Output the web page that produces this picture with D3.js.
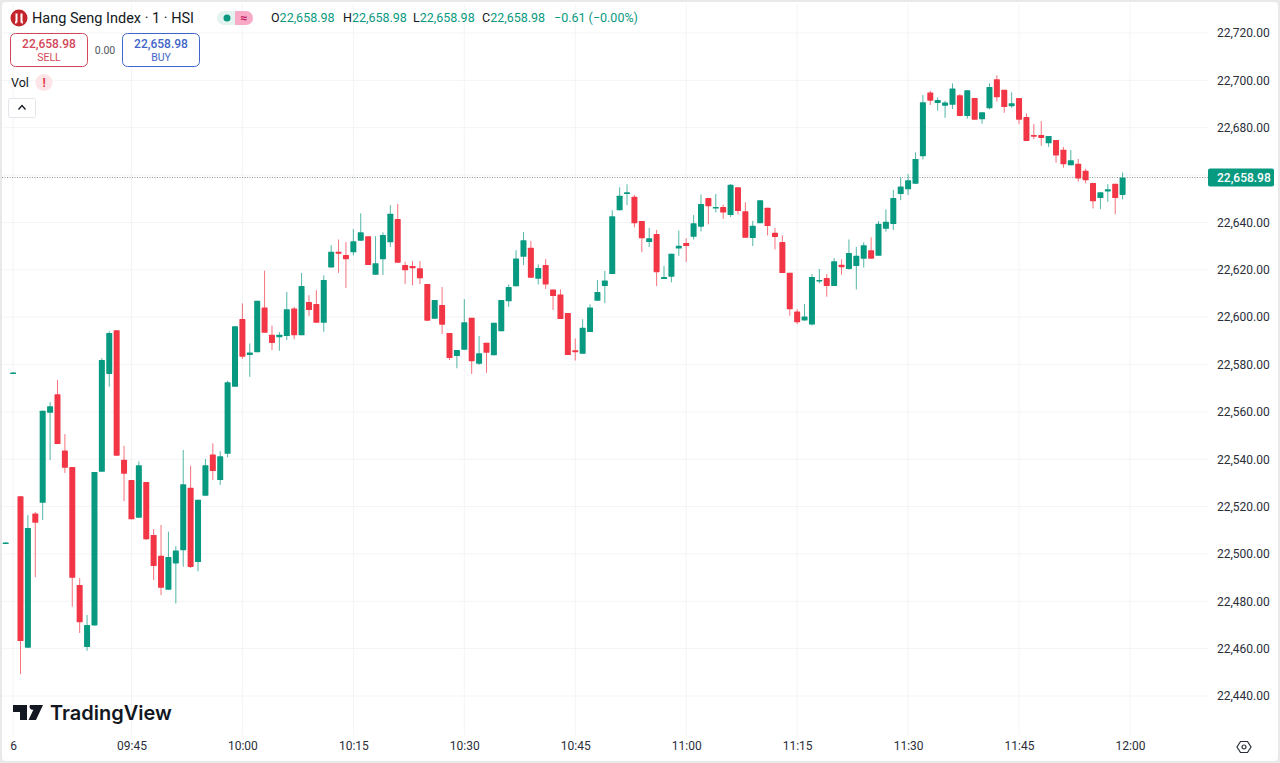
<!DOCTYPE html>
<html>
<head>
<meta charset="utf-8">
<title>Hang Seng Index</title>
<script src="https://cdn.jsdelivr.net/npm/d3@7/dist/d3.min.js"></script>
<style>
  html, body { margin: 0; padding: 0; background: #e9e9ea; overflow: hidden; }
  svg { display: block; font-family: Roboto, "Open Sans", sans-serif; }
  .tick text { fill: #2a2e39; font-size: 12px; font-family: Roboto, sans-serif; }
</style>
</head>
<body>
<div id="chart"></div>
<script>
// one candle a minute, the first two belong to the pre-open auction
const open = [
  22504.4, 22576.2,
  22524.4, 22460.4, 22517.1, 22521.6, 22559.6, 22567.4, 22543.7, 22536.7, 22486.9, 22460.7,
  22469.8, 22534.7, 22576.0, 22594.5, 22539.8, 22531.2, 22515.3, 22530.4, 22508.0, 22499.2,
  22484.9, 22496.0, 22501.6, 22527.9, 22496.6, 22524.6, 22542.0, 22531.2, 22542.3, 22570.6,
  22599.2, 22584.0, 22585.2, 22604.1, 22592.6, 22591.5, 22592.0, 22603.7, 22592.4, 22606.4,
  22605.5, 22597.6, 22621.0, 22627.6, 22626.2, 22627.4, 22632.3, 22634.2, 22617.9, 22624.5,
  22631.6, 22641.4, 22622.0, 22621.6, 22620.7, 22614.0, 22599.3, 22605.1, 22593.3, 22583.6,
  22586.2, 22599.7, 22580.3, 22589.2, 22583.9, 22594.0, 22606.7, 22613.0, 22625.5, 22629.3,
  22616.2, 22622.0, 22611.7, 22609.6, 22601.8, 22586.0, 22584.5, 22593.7, 22606.9, 22613.2,
  22618.2, 22645.1, 22652.0, 22650.8, 22640.6, 22631.7, 22635.1, 22616.1, 22617.1, 22629.0,
  22631.3, 22633.9, 22638.2, 22650.3, 22646.2, 22646.5, 22643.1, 22654.9, 22644.7, 22633.4,
  22639.7, 22646.2, 22635.6, 22631.7, 22618.7, 22602.4, 22598.6, 22596.9, 22615.2, 22616.5,
  22613.2, 22622.1, 22620.3, 22621.6, 22624.7, 22628.2, 22625.9, 22637.3, 22639.3, 22652.0,
  22654.0, 22656.3, 22668.0, 22694.9, 22690.4, 22689.3, 22689.7, 22693.7, 22684.9, 22692.5,
  22683.6, 22688.2, 22700.5, 22696.0, 22689.1, 22692.5, 22684.5, 22676.9, 22676.9, 22673.4,
  22674.8, 22670.7, 22664.1, 22664.8, 22661.8, 22656.7, 22650.3, 22653.1, 22656.3, 22651.6
];
const high = [
  22505.0, 22576.8,
  22524.4, 22516.4, 22517.7, 22560.5, 22564.1, 22573.4, 22550.6, 22536.7, 22489.8, 22474.2,
  22534.6, 22582.7, 22594.1, 22594.5, 22545.6, 22531.2, 22539.1, 22530.4, 22510.5, 22512.2,
  22509.4, 22503.3, 22543.9, 22537.2, 22522.9, 22540.1, 22546.7, 22543.4, 22573.1, 22596.2,
  22605.8, 22588.9, 22606.9, 22619.6, 22596.4, 22593.7, 22610.6, 22604.4, 22618.7, 22609.3,
  22611.4, 22617.6, 22630.4, 22632.8, 22631.7, 22637.2, 22643.8, 22634.2, 22634.2, 22635.8,
  22647.3, 22647.8, 22623.4, 22623.7, 22623.7, 22614.0, 22607.2, 22612.7, 22593.3, 22586.1,
  22607.6, 22599.7, 22592.0, 22589.2, 22597.6, 22607.2, 22613.8, 22628.3, 22635.9, 22632.1,
  22622.3, 22624.5, 22611.7, 22611.7, 22601.8, 22591.0, 22599.1, 22605.4, 22615.7, 22619.5,
  22645.2, 22654.8, 22656.1, 22651.6, 22640.6, 22637.7, 22636.8, 22621.6, 22626.8, 22636.6,
  22633.3, 22643.1, 22651.8, 22650.3, 22652.0, 22647.5, 22656.2, 22654.9, 22648.5, 22640.7,
  22649.4, 22646.2, 22637.6, 22634.5, 22618.7, 22603.4, 22605.5, 22618.2, 22620.4, 22618.2,
  22624.9, 22624.4, 22632.8, 22629.7, 22631.6, 22633.7, 22640.6, 22645.5, 22653.7, 22659.0,
  22660.4, 22669.6, 22693.8, 22695.6, 22692.8, 22691.4, 22698.7, 22694.2, 22695.8, 22692.5,
  22686.5, 22698.7, 22702.1, 22696.0, 22694.9, 22692.5, 22686.1, 22681.5, 22682.8, 22676.5,
  22674.8, 22671.9, 22670.6, 22666.8, 22662.7, 22656.7, 22652.7, 22656.1, 22656.3, 22661.1
];
const low = [
  22504.2, 22576.0,
  22449.3, 22460.4, 22490.2, 22514.3, 22539.6, 22546.4, 22534.2, 22477.7, 22466.6, 22459.1,
  22469.8, 22534.7, 22570.6, 22541.5, 22522.3, 22514.6, 22515.3, 22505.9, 22489.0, 22482.6,
  22484.9, 22479.1, 22494.6, 22494.0, 22492.6, 22524.6, 22531.2, 22529.1, 22540.8, 22570.6,
  22582.4, 22574.8, 22585.2, 22593.4, 22586.1, 22585.8, 22590.3, 22590.7, 22592.4, 22600.5,
  22597.6, 22593.8, 22621.0, 22618.7, 22612.3, 22626.1, 22632.3, 22622.0, 22617.9, 22617.8,
  22629.7, 22623.0, 22614.0, 22613.4, 22614.0, 22598.5, 22599.3, 22592.9, 22581.9, 22578.4,
  22586.2, 22576.0, 22579.8, 22576.5, 22583.9, 22594.0, 22604.3, 22613.0, 22622.0, 22616.6,
  22613.8, 22611.9, 22603.0, 22599.2, 22584.0, 22581.7, 22584.5, 22593.7, 22606.9, 22605.9,
  22618.2, 22645.1, 22647.3, 22637.9, 22627.4, 22629.6, 22613.1, 22616.1, 22614.7, 22625.9,
  22623.3, 22632.8, 22636.2, 22639.2, 22644.2, 22641.5, 22642.3, 22643.4, 22633.5, 22630.0,
  22639.7, 22634.5, 22628.6, 22618.6, 22600.6, 22597.1, 22598.6, 22596.5, 22614.3, 22608.6,
  22613.2, 22617.9, 22620.0, 22611.7, 22620.9, 22624.7, 22625.9, 22636.1, 22636.8, 22649.4,
  22651.6, 22656.3, 22666.6, 22689.6, 22687.2, 22684.2, 22687.9, 22684.8, 22683.8, 22683.4,
  22681.7, 22687.7, 22691.1, 22686.3, 22688.4, 22681.5, 22674.4, 22675.1, 22672.4, 22671.9,
  22665.2, 22663.1, 22664.1, 22657.2, 22656.5, 22645.9, 22645.6, 22648.7, 22643.5, 22649.7
];
const close = [
  22504.8, 22576.6,
  22463.2, 22511.0, 22513.2, 22560.5, 22562.4, 22546.4, 22536.4, 22489.9, 22471.1, 22470.0,
  22534.6, 22581.9, 22593.3, 22541.5, 22533.9, 22514.6, 22537.4, 22506.2, 22494.9, 22485.7,
  22498.7, 22501.5, 22529.4, 22494.5, 22522.9, 22537.4, 22535.0, 22541.2, 22572.5, 22596.2,
  22583.3, 22585.1, 22606.9, 22593.4, 22589.1, 22592.6, 22603.3, 22592.4, 22613.1, 22603.0,
  22597.6, 22615.7, 22627.6, 22626.8, 22624.5, 22632.0, 22635.8, 22622.0, 22622.8, 22634.7,
  22643.7, 22623.0, 22619.8, 22620.6, 22616.4, 22598.5, 22607.2, 22596.8, 22582.7, 22586.1,
  22597.8, 22581.4, 22584.8, 22585.0, 22597.6, 22607.2, 22612.7, 22624.8, 22632.5, 22616.6,
  22620.8, 22613.8, 22608.9, 22599.2, 22584.0, 22585.2, 22595.5, 22604.1, 22610.6, 22615.5,
  22642.6, 22651.3, 22652.7, 22639.7, 22633.3, 22633.3, 22619.0, 22617.0, 22626.8, 22630.1,
  22630.0, 22639.7, 22647.8, 22646.8, 22646.5, 22644.2, 22655.9, 22644.8, 22633.5, 22638.6,
  22649.4, 22638.5, 22633.8, 22618.6, 22603.3, 22597.8, 22600.3, 22617.0, 22615.7, 22613.1,
  22623.6, 22621.1, 22627.1, 22625.9, 22630.4, 22624.7, 22639.4, 22640.3, 22650.3, 22655.2,
  22657.8, 22666.8, 22690.8, 22691.4, 22691.7, 22690.7, 22696.6, 22685.0, 22695.8, 22683.4,
  22686.5, 22697.2, 22692.9, 22688.7, 22690.3, 22683.4, 22674.4, 22676.2, 22675.7, 22676.5,
  22668.3, 22664.6, 22666.3, 22658.6, 22657.8, 22648.9, 22652.7, 22654.0, 22650.3, 22658.98
];

const priceTicks = [22720, 22700, 22680, 22660, 22640, 22620, 22600, 22580, 22560, 22540, 22520, 22500, 22480, 22460, 22440];
const timeTickHours = [[9,29],[9,45],[10,0],[10,15],[10,30],[10,45],[11,0],[11,15],[11,30],[11,45],[12,0]];
const timeLabels = ["6","09:45","10:00","10:15","10:30","10:45","11:00","11:15","11:30","11:45","12:00"];
const lastPrice = 22658.98;
const ohlcLabels = ["O","H","L","C"];
const ohlcValues = ["22,658.98","22,658.98","22,658.98","22,658.98"];

const UP = "#089981";
const DOWN = "#f23645";

const firstMinute = new Date(2025, 4, 6, 9, 28);
const day = (h, m) => new Date(2025, 4, 6, h, m);

const x = d3.scaleTime().domain([day(9,30), day(12,0)]).range([20.5, 1130]);
const y = d3.scaleLinear().domain([22720, 22440]).range([33, 696]);

const svg = d3.select("#chart").append("svg")
  .attr("width", 1280)
  .attr("height", 763);

// pane
svg.append("rect")
  .attr("x", 2).attr("y", 2)
  .attr("width", 1276).attr("height", 759)
  .attr("rx", 4)
  .attr("fill", "#fff");

// grid
const timeTicks = timeTickHours.map(d => day(d[0], d[1]));

svg.append("g").selectAll("line")
  .data(priceTicks)
  .join("line")
  .attr("x1", 2).attr("x2", 1208)
  .attr("y1", d => y(d)).attr("y2", d => y(d))
  .attr("stroke", "#f3f4f6");

svg.append("g").selectAll("line")
  .data(timeTicks)
  .join("line")
  .attr("x1", d => x(d)).attr("x2", d => x(d))
  .attr("y1", 4).attr("y2", 735)
  .attr("stroke", "#f3f4f6");

// last price line
svg.append("line")
  .attr("x1", 2).attr("x2", 1208)
  .attr("y1", y(lastPrice)).attr("y2", y(lastPrice))
  .attr("stroke", "#8f9a98")
  .attr("stroke-dasharray", "1 1.5");

// candles
const candles = close.map((c, i) => ({
  time: d3.timeMinute.offset(firstMinute, i),
  open: open[i], high: high[i], low: low[i], close: c
}));

const candle = svg.append("g").selectAll("g")
  .data(candles)
  .join("g")
  .attr("transform", d => "translate(" + x(d.time) + ",0)");

candle.append("line")
  .attr("y1", d => y(d.high))
  .attr("y2", d => y(d.low))
  .attr("stroke", d => d.close >= d.open ? UP : DOWN)
  .attr("stroke-opacity", 0.7);

candle.append("rect")
  .attr("x", -3)
  .attr("width", 6)
  .attr("y", d => y(Math.max(d.open, d.close)))
  .attr("height", d => Math.max(1.5, Math.abs(y(d.open) - y(d.close))))
  .attr("rx", 0.6)
  .attr("fill", d => d.close >= d.open ? UP : DOWN);

// price axis
const yAxis = svg.append("g")
  .attr("transform", "translate(1217,0)")
  .call(d3.axisRight(y).tickValues(priceTicks).tickSize(0).tickPadding(0).tickFormat(d3.format(",.2f")));
yAxis.select(".domain").remove();

// last price tag
svg.append("rect")
  .attr("x", 1208).attr("y", y(lastPrice) - 9)
  .attr("width", 66).attr("height", 18)
  .attr("rx", 2)
  .attr("fill", UP);
svg.append("text")
  .attr("x", 1217).attr("y", y(lastPrice) + 4.5)
  .attr("fill", "#fff")
  .attr("font-size", 12).attr("font-weight", 500)
  .text(d3.format(",.2f")(lastPrice));

// time axis
const xAxis = svg.append("g")
  .attr("transform", "translate(0,737)")
  .call(d3.axisBottom(x).tickValues(timeTicks).tickSize(0).tickPadding(4).tickFormat((d, i) => timeLabels[i]));
xAxis.select(".domain").remove();

// settings icon
const gear = svg.append("g").attr("transform", "translate(1244,747)")
  .attr("fill", "none").attr("stroke", "#2a2e39").attr("stroke-width", 1.2);
gear.append("path").attr("d", "M-7 0L-3.5 -5.5H3.5L7 0L3.5 5.5H-3.5Z");
gear.append("circle").attr("r", 2);

// legend, first row
const legend = svg.append("g");
legend.append("circle").attr("cx", 19).attr("cy", 18).attr("r", 8.5).attr("fill", "#c4242c");
legend.append("path").attr("d", "M16.5 13.5V22.5M21.5 13.5V22.5M16.5 22.5H15M21.5 22.5H23")
  .attr("stroke", "#fff").attr("stroke-width", 2).attr("fill", "none");
legend.append("text")
  .attr("x", 32).attr("y", 23)
  .attr("font-size", 14.5).attr("fill", "#131722")
  .text("Hang Seng Index · 1 · HSI");

legend.append("path").attr("d", "M235 11H224a7 7 0 0 0 0 14H235Z").attr("fill", "#e3f3ef");
legend.append("path").attr("d", "M235 11H246a7 7 0 0 1 0 14H235Z").attr("fill", "#f8a9c6");
legend.append("circle").attr("cx", 227).attr("cy", 18).attr("r", 3.5).attr("fill", UP);
legend.append("text")
  .attr("x", 244).attr("y", 22).attr("text-anchor", "middle")
  .attr("font-size", 12).attr("font-weight", 700).attr("fill", "#c2185b")
  .text("≈");

const ohlcX = [271, 343, 413, 482];
ohlcLabels.forEach((label, i) => {
  const t = legend.append("text").attr("x", ohlcX[i]).attr("y", 22).attr("font-size", 12.5);
  t.append("tspan").attr("fill", "#131722").text(label);
  t.append("tspan").attr("fill", UP).text(ohlcValues[i]);
});
legend.append("text")
  .attr("x", 554).attr("y", 22)
  .attr("font-size", 12.5).attr("fill", UP)
  .text("−0.61 (−0.00%)");

// sell / buy buttons
function tradeButton(left, colour, label){
  svg.append("rect")
    .attr("x", left + 0.5).attr("y", 33.5)
    .attr("width", 77).attr("height", 33)
    .attr("rx", 5)
    .attr("fill", "#fff").attr("stroke", colour);
  svg.append("text")
    .attr("x", left + 39).attr("y", 48)
    .attr("text-anchor", "middle")
    .attr("font-size", 12).attr("font-weight", 500).attr("fill", colour)
    .text("22,658.98");
  svg.append("text")
    .attr("x", left + 39).attr("y", 61)
    .attr("text-anchor", "middle")
    .attr("font-size", 10.5).attr("fill", colour)
    .text(label);
}
tradeButton(10, "#d4475a", "SELL");
tradeButton(122, "#3f66c8", "BUY");
svg.append("text")
  .attr("x", 105).attr("y", 54)
  .attr("text-anchor", "middle")
  .attr("font-size", 10.5).attr("fill", "#50535e")
  .text("0.00");

// volume row
svg.append("text")
  .attr("x", 11).attr("y", 87)
  .attr("font-size", 12.5).attr("fill", "#131722")
  .text("Vol");
svg.append("circle").attr("cx", 44).attr("cy", 82.5).attr("r", 8.5).attr("fill", "#fde4e6");
svg.append("text")
  .attr("x", 44).attr("y", 87)
  .attr("text-anchor", "middle")
  .attr("font-size", 12).attr("font-weight", 700).attr("fill", "#e2384a")
  .text("!");

// collapse button
svg.append("rect")
  .attr("x", 8.5).attr("y", 98.5)
  .attr("width", 27).attr("height", 19)
  .attr("rx", 2)
  .attr("fill", "#fff").attr("stroke", "#e3e5ea");
svg.append("path")
  .attr("d", "M18.5 109.5L22 105.5L25.5 109.5")
  .attr("fill", "none").attr("stroke", "#131722").attr("stroke-width", 1.3);

// logo
svg.append("path")
  .attr("d", "M13 705H27V720H20V712H13ZM30 705H43L36 720H28.5L33.5 709.5A3 3 0 0 1 30 705Z")
  .attr("fill", "#131722");
svg.append("text")
  .attr("x", 50).attr("y", 720)
  .attr("font-family", "Inter, Roboto, sans-serif")
  .attr("font-size", 20).attr("font-weight", 600).attr("fill", "#131722")
  .text("TradingView");
</script>
</body>
</html>
